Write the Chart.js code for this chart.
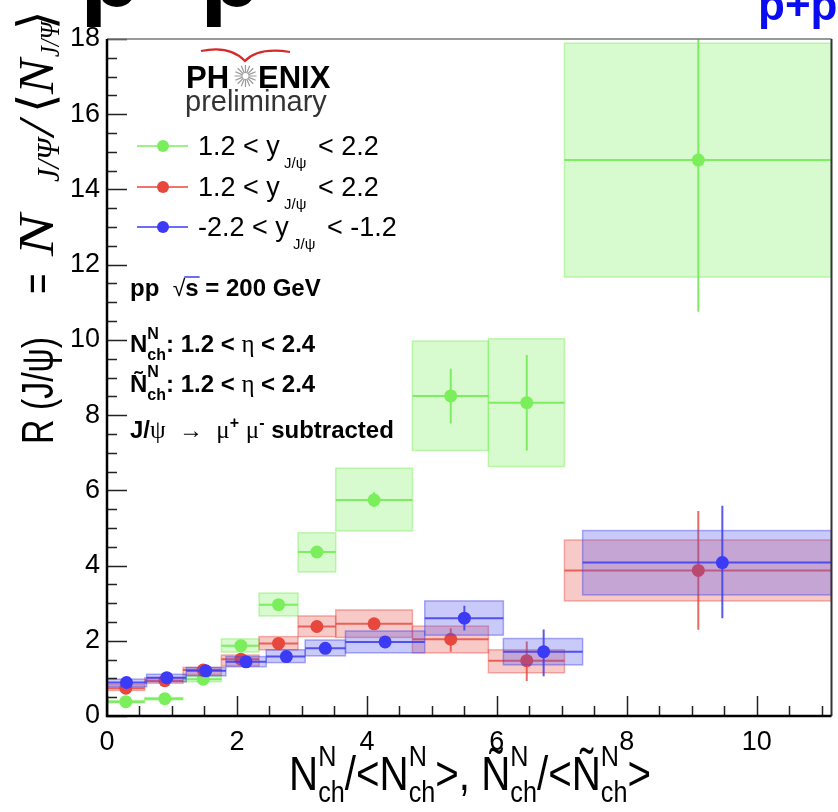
<!DOCTYPE html>
<html>
<head>
<meta charset="utf-8">
<script src="https://cdn.jsdelivr.net/npm/chart.js@4.4.1/dist/chart.umd.min.js"></script>
<style>
  html, body { margin: 0; padding: 0; background: #fff; }
  canvas { display: block; }
</style>
</head>
<body>
<canvas id="c" width="838" height="812"></canvas>
<script>
// ---- data ----
// green: 1.2 < y < 2.2 (upper entry)
const gX      = [0.29, 0.89, 1.48, 2.06, 2.64, 3.23, 4.11, 5.29, 6.46, 9.10];
const gY      = [0.38, 0.46, 0.98, 1.87, 2.96, 4.36, 5.74, 8.51, 8.33, 14.78];
const gBinLo  = [0, 0.58, 1.17, 1.76, 2.34, 2.94, 3.52, 4.70, 5.87, 7.04];
const gBinHi  = [0.58, 1.17, 1.76, 2.34, 2.94, 3.52, 4.70, 5.87, 7.04, 11.15];
const gSysLo  = [0.35, 0.43, 0.91, 1.70, 2.66, 3.83, 4.92, 7.06, 6.63, 11.67];
const gSysHi  = [0.41, 0.49, 1.06, 2.05, 3.27, 4.87, 6.59, 9.97, 10.03, 17.89];
const gStatLo = [0.34, 0.40, 0.93, 1.80, 2.88, 4.22, 5.55, 7.78, 7.06, 10.75];
const gStatHi = [0.42, 0.52, 1.03, 1.94, 3.04, 4.50, 5.95, 9.23, 9.60, 20];

// red: 1.2 < y < 2.2
const rX      = [0.29, 0.89, 1.48, 2.06, 2.64, 3.23, 4.11, 5.29, 6.46, 9.10];
const rY      = [0.74, 0.94, 1.22, 1.51, 1.93, 2.38, 2.45, 2.04, 1.47, 3.87];
const rBinLo  = [0, 0.58, 1.17, 1.76, 2.34, 2.94, 3.52, 4.70, 5.87, 7.04];
const rBinHi  = [0.58, 1.17, 1.76, 2.34, 2.94, 3.52, 4.70, 5.87, 7.04, 11.15];
const rSysLo  = [0.68, 0.87, 1.09, 1.33, 1.76, 2.11, 2.09, 1.68, 1.15, 3.06];
const rSysHi  = [0.84, 1.02, 1.29, 1.62, 2.11, 2.66, 2.82, 2.39, 1.76, 4.68];
const rStatLo = [0.68, 0.88, 1.14, 1.42, 1.83, 2.28, 2.32, 1.71, 0.93, 2.29];
const rStatHi = [0.80, 1.00, 1.30, 1.60, 2.03, 2.48, 2.58, 2.33, 1.98, 5.45];

// blue: -2.2 < y < -1.2
const bX      = [0.30, 0.92, 1.52, 2.14, 2.76, 3.36, 4.28, 5.50, 6.72, 9.47];
const bY      = [0.89, 1.02, 1.20, 1.44, 1.58, 1.80, 1.97, 2.60, 1.71, 4.08];
const bBinLo  = [0, 0.61, 1.22, 1.83, 2.45, 3.05, 3.67, 4.89, 6.10, 7.32];
const bBinHi  = [0.61, 1.22, 1.83, 2.45, 3.05, 3.67, 4.89, 6.10, 7.32, 11.15];
const bSysLo  = [0.78, 0.91, 1.07, 1.31, 1.42, 1.60, 1.68, 2.15, 1.36, 3.22];
const bSysHi  = [0.98, 1.11, 1.29, 1.58, 1.76, 2.02, 2.26, 3.06, 2.06, 4.93];
const bStatLo = [0.82, 0.96, 1.14, 1.38, 1.51, 1.72, 1.88, 2.27, 1.06, 2.60];
const bStatHi = [0.96, 1.08, 1.26, 1.50, 1.65, 1.88, 2.06, 2.93, 2.30, 5.59];

const X_MIN = 0, X_MAX = 11.15, Y_MIN = 0, Y_MAX = 18;

const SANS = '"Liberation Sans", Arial, sans-serif';
const SERIF = '"Liberation Serif", "Times New Roman", serif';

// one entry per dataset, same index order as datasets
const SERIES = [
  { x: bX, y: bY, lo: bBinLo, hi: bBinHi, sLo: bSysLo, sHi: bSysHi, eLo: bStatLo, eHi: bStatHi,
    point: '#3b3bf6', line: 'rgba(60,60,240,0.85)', fill: 'rgba(80,80,240,0.30)', edge: 'rgba(70,70,235,0.45)' },
  { x: rX, y: rY, lo: rBinLo, hi: rBinHi, sLo: rSysLo, sHi: rSysHi, eLo: rStatLo, eHi: rStatHi,
    point: '#e8473d', line: 'rgba(228,70,60,0.8)', fill: 'rgba(232,80,70,0.30)', edge: 'rgba(232,80,70,0.45)' },
  { x: gX, y: gY, lo: gBinLo, hi: gBinHi, sLo: gSysLo, sHi: gSysHi, eLo: gStatLo, eHi: gStatHi,
    point: '#7bee5c', line: 'rgba(115,235,85,0.9)', fill: 'rgba(123,238,92,0.30)', edge: 'rgba(123,238,92,0.45)' },
];

// draws text pieces one after another; a piece with `stack` puts sup/sub on top of each other
function drawRich(ctx, x, y, parts) {
  for (const p of parts) {
    if (p.stack) {
      let w = 0;
      for (const s of p.stack) {
        ctx.font = s.f;
        ctx.fillText(s.t, x, y + (s.dy || 0));
        w = Math.max(w, ctx.measureText(s.t).width);
      }
      x += w;
    } else {
      ctx.font = p.f;
      const w = ctx.measureText(p.t).width;
      ctx.fillText(p.t, x, y + (p.dy || 0));
      if (p.over) {
        ctx.save();
        ctx.lineWidth = 1.5;
        ctx.beginPath(); ctx.moveTo(x - 1, y - p.over); ctx.lineTo(x + w + 1, y - p.over); ctx.stroke();
        ctx.restore();
      }
      x += w;
    }
  }
  return x;
}
function richWidth(ctx, parts) {
  let w = 0;
  for (const p of parts) {
    if (p.stack) {
      w += Math.max(...p.stack.map(s => { ctx.font = s.f; return ctx.measureText(s.t).width; }));
    } else { ctx.font = p.f; w += ctx.measureText(p.t).width; }
  }
  return w;
}

// systematic boxes + error bars, drawn right before each series' markers
const errorBoxes = {
  id: 'errorBoxes',
  beforeDatasetDraw(chart, args) {
    const s = SERIES[args.index];
    const { ctx, chartArea: a, scales: { x, y } } = chart;
    ctx.save();
    ctx.beginPath();
    ctx.rect(a.left, a.top, a.right - a.left, a.bottom - a.top);
    ctx.clip();
    for (let i = 0; i < s.x.length; i++) {
      const l = x.getPixelForValue(s.lo[i]), r = x.getPixelForValue(s.hi[i]);
      const t = y.getPixelForValue(s.sHi[i]), b = y.getPixelForValue(s.sLo[i]);
      ctx.fillStyle = s.fill;
      ctx.fillRect(l, t, r - l, b - t);
      ctx.strokeStyle = s.edge;
      ctx.lineWidth = 1.5;
      ctx.strokeRect(l, t, r - l, b - t);
      const px = x.getPixelForValue(s.x[i]), py = y.getPixelForValue(s.y[i]);
      ctx.strokeStyle = s.line;
      ctx.lineWidth = 2;
      ctx.beginPath();
      ctx.moveTo(l, py); ctx.lineTo(r, py);
      ctx.moveTo(px, y.getPixelForValue(s.eHi[i])); ctx.lineTo(px, y.getPixelForValue(s.eLo[i]));
      ctx.stroke();
    }
    ctx.restore();
  }
};

// frame, inside ticks, titles, legend and labels
const decorations = {
  id: 'decorations',
  afterDraw(chart) {
    const { ctx, chartArea: a, scales: { x, y } } = chart;
    ctx.save();

    // ticks pointing inward
    ctx.strokeStyle = '#222';
    ctx.lineWidth = 1.5;
    ctx.beginPath();
    for (let v = 0; v <= Y_MAX + 1e-9; v += 0.5) {
      const py = Math.round(y.getPixelForValue(v)) + 0.5;
      const len = (Math.abs(v % 2) < 1e-9) ? 20 : 10;
      ctx.moveTo(a.left, py); ctx.lineTo(a.left + len, py);
    }
    for (let v = 0; v <= X_MAX + 1e-9; v += 0.5) {
      const px = Math.round(x.getPixelForValue(v)) + 0.5;
      const len = (Math.abs(v % 2) < 1e-9) ? 20 : 10;
      ctx.moveTo(px, a.bottom); ctx.lineTo(px, a.bottom - len);
    }
    ctx.stroke();

    // frame
    ctx.strokeStyle = '#777';
    ctx.lineWidth = 1.5;
    ctx.beginPath(); ctx.moveTo(a.left, a.top); ctx.lineTo(a.right, a.top); ctx.stroke();
    ctx.strokeStyle = '#333';
    ctx.lineWidth = 2;
    ctx.beginPath(); ctx.moveTo(a.right, a.top); ctx.lineTo(a.right, a.bottom); ctx.stroke();
    ctx.strokeStyle = '#000';
    ctx.lineWidth = 2.5;
    ctx.beginPath();
    ctx.moveTo(a.left, a.top); ctx.lineTo(a.left, a.bottom); ctx.lineTo(a.right, a.bottom);
    ctx.stroke();

    ctx.fillStyle = '#000';
    ctx.textBaseline = 'alphabetic';
    ctx.textAlign = 'left';

    // cut-off title pieces at the very top
    ctx.font = 'bold 100px ' + SANS;
    ctx.fillText('p', 80, 6);
    ctx.fillText('p', 200, 6);
    ctx.fillStyle = '#0b0bf0';
    ctx.font = 'bold 44px ' + SANS;
    ctx.fillText('p+p', 758, 20);
    ctx.fillStyle = '#000';

    // y axis title (rotated); each piece placed at a distance d along the text
    ctx.save();
    ctx.translate(53, 444);
    ctx.rotate(-Math.PI / 2);
    const big = '44px ' + SANS;
    const nI = 'italic 50px ' + SERIF;
    const yPieces = [
      { t: 'R (J/\u03C8)', f: big, d: 0, fit: 107 },
      { t: '=', f: big, d: 150, s: 0.8 },
      { t: 'N', f: nI, d: 188, s: 1.25 },
      { t: 'J/\u03A8', f: 'italic 32px ' + SERIF, d: 262, s: 0.95, dy: 6 },
      { t: '/', f: nI, d: 308, s: 1.1 },
      { t: '\u27E8', f: '50px ' + SERIF, d: 331, s: 1 },
      { t: 'N', f: nI, d: 350, s: 1.05 },
      { t: 'J/\u03A8', f: 'italic 27px ' + SERIF, d: 387, s: 0.9, dy: 6 },
      { t: '\u27E9', f: '50px ' + SERIF, d: 414, s: 1 },
    ];
    for (const p of yPieces) {
      ctx.save();
      ctx.font = p.f;
      const sc = p.fit ? p.fit / ctx.measureText(p.t).width : p.s;
      ctx.translate(p.d, p.dy || 0);
      ctx.scale(sc, 1);
      ctx.fillText(p.t, 0, 0);
      ctx.restore();
    }
    ctx.restore();

    // x axis title
    ctx.save();
    const xt = '48px ' + SANS, xs = '30px ' + SANS;
    const nn = (n) => [{ t: n, f: xt }, { stack: [{ t: 'N', f: xs, dy: -24 }, { t: 'ch', f: xs, dy: 12 }] }];
    const xParts = [
      ...nn('N'), { t: '/<', f: xt }, ...nn('N'), { t: '>, ', f: xt },
      ...nn('\u00D1'), { t: '/<', f: xt }, ...nn('\u00D1'), { t: '>', f: xt },
    ];
    const sx = 0.84;
    const w = richWidth(ctx, xParts) * sx;
    ctx.translate(470 - w / 2, 790);
    ctx.scale(sx, 1);
    drawRich(ctx, 0, 0, xParts);
    ctx.restore();

    // PHENIX logo
    ctx.font = 'bold 31px ' + SANS;
    ctx.fillText('PH', 186, 88);
    ctx.fillText('ENIX', 258, 88);
    ctx.strokeStyle = '#999';
    ctx.lineWidth = 1.2;
    ctx.beginPath();
    for (let k = 0; k < 16; k++) {
      const ang = k * Math.PI / 8;
      ctx.moveTo(245.5 + 3 * Math.cos(ang), 76 + 3 * Math.sin(ang));
      ctx.lineTo(245.5 + 11 * Math.cos(ang), 76 + 11 * Math.sin(ang));
    }
    ctx.stroke();
    ctx.strokeStyle = '#d42a2a';
    ctx.lineWidth = 2.2;
    ctx.beginPath();
    ctx.moveTo(201, 51);
    ctx.quadraticCurveTo(230, 45, 245, 61);
    ctx.quadraticCurveTo(258, 47, 290, 52);
    ctx.stroke();
    ctx.fillStyle = '#333';
    ctx.font = '29px ' + SANS;
    ctx.fillText('preliminary', 185, 111);
    ctx.fillStyle = '#000';

    // legend
    const legendRows = [
      { c: SERIES[2], y: 146, lo: '1.2 < y', hi: '< 2.2' },
      { c: SERIES[1], y: 187, lo: '1.2 < y', hi: '< 2.2' },
      { c: SERIES[0], y: 227, lo: '-2.2 < y', hi: '< -1.2' },
    ];
    for (const row of legendRows) {
      ctx.strokeStyle = row.c.point;
      ctx.lineWidth = 1.5;
      ctx.beginPath(); ctx.moveTo(137, row.y); ctx.lineTo(188, row.y); ctx.stroke();
      ctx.fillStyle = row.c.point;
      ctx.beginPath(); ctx.arc(163, row.y, 6, 0, Math.PI * 2); ctx.fill();
      ctx.fillStyle = '#000';
      drawRich(ctx, 198, row.y + 9, [
        { t: row.lo, f: '27px ' + SANS },
        { t: ' J/\u03C8 ', f: '15px ' + SANS, dy: 13 },
        { t: ' ' + row.hi, f: '27px ' + SANS },
      ]);
    }

    // annotations
    const B = 'bold 24px ' + SANS, Bs = 'bold 16px ' + SANS, G = '25px ' + SERIF;
    drawRich(ctx, 130, 296, [
      { t: 'pp  ', f: B }, { t: '\u221A', f: '23px ' + SANS }, { t: 's', f: B, over: 19 }, { t: ' = 200 GeV', f: B },
    ]);
    drawRich(ctx, 130, 352, [
      { t: 'N', f: B }, { stack: [{ t: 'N', f: Bs, dy: -13 }, { t: 'ch', f: Bs, dy: 8 }] },
      { t: ': 1.2 < ', f: B }, { t: '\u03B7', f: G }, { t: ' < 2.4', f: B },
    ]);
    drawRich(ctx, 130, 392, [
      { t: '\u00D1', f: B }, { stack: [{ t: 'N', f: Bs, dy: -15 }, { t: 'ch', f: Bs, dy: 8 }] },
      { t: ': 1.2 < ', f: B }, { t: '\u03B7', f: G }, { t: ' < 2.4', f: B },
    ]);
    drawRich(ctx, 130, 438, [
      { t: 'J/', f: B }, { t: '\u03C8', f: G }, { t: '  \u2192  ', f: '24px ' + SANS },
      { t: '\u03BC', f: G }, { t: '+', f: Bs, dy: -10 }, { t: ' ', f: B },
      { t: '\u03BC', f: G }, { t: '-', f: Bs, dy: -10 }, { t: ' subtracted', f: B },
    ]);

    ctx.restore();
  }
};

const toPoints = (xs, ys) => xs.map((v, i) => ({ x: v, y: ys[i] }));

new Chart(document.getElementById('c'), {
  type: 'scatter',
  data: {
    datasets: SERIES.map((s, i) => ({
      label: ['blue', 'red', 'green'][i],
      data: toPoints(s.x, s.y),
      backgroundColor: s.point,
      borderWidth: 0,
      pointRadius: 6.5,
      order: i + 1,
    })),
  },
  options: {
    responsive: false,
    animation: false,
    events: [],
    layout: { padding: { left: 0, right: 6, top: 39, bottom: 0 } },
    plugins: { legend: { display: false }, tooltip: { enabled: false } },
    scales: {
      x: {
        type: 'linear', min: X_MIN, max: X_MAX,
        grid: { display: false, drawTicks: false },
        border: { display: false },
        ticks: { stepSize: 2, includeBounds: false, padding: 10, color: '#000', font: { size: 27, family: SANS } },
        afterFit: (s) => { s.height = 96; },
      },
      y: {
        type: 'linear', min: Y_MIN, max: Y_MAX,
        grid: { display: false, drawTicks: false },
        border: { display: false },
        ticks: { stepSize: 2, includeBounds: false, padding: 7, color: '#000', font: { size: 27, family: SANS } },
        afterFit: (s) => { s.width = 107; },
      },
    },
  },
  plugins: [errorBoxes, decorations],
});
</script>
</body>
</html>
